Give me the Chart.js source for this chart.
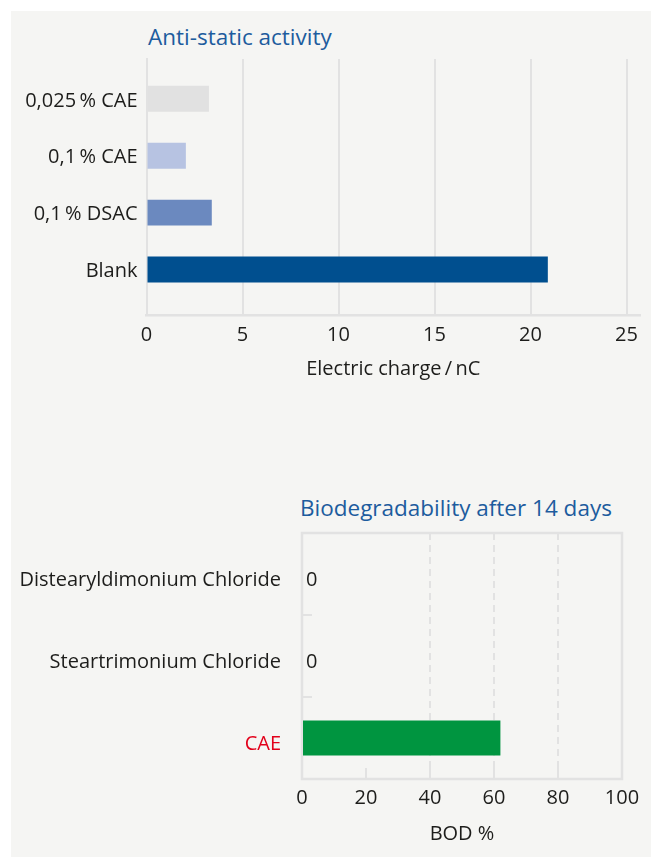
<!DOCTYPE html>
<html>
<head>
<meta charset="utf-8">
<script src="https://cdn.jsdelivr.net/npm/chart.js@4/dist/chart.umd.min.js"></script>
<style>
  html, body { margin: 0; padding: 0; background: #fff; }
  body { width: 651px; height: 857px; position: relative; overflow: hidden; font-family: "Open Sans", sans-serif; }
  .panel { position: absolute; left: 11px; top: 11px; right: 0; bottom: 0; background: #f5f5f3; }
  .title { position: absolute; font-size: 22.5px; line-height: 22px; color: #1d5c9e; white-space: nowrap; }
  .box { position: absolute; left: 0; width: 651px; }
</style>
</head>
<body>
<div class="panel"></div>
<div class="title" style="left:148px; top:26px;">Anti-static activity</div>
<div class="title" style="left:300px; top:497px;">Biodegradability after 14 days</div>
<div class="box" style="top:0; height:430px;"><canvas id="chargeChart" width="651" height="430"></canvas></div>
<div class="box" style="top:430px; height:427px;"><canvas id="bodChart" width="651" height="427"></canvas></div>
<script>
// Données du graphique "Anti-static activity"
const chargeLabels = ['0,025\u2009% CAE', '0,1\u2009% CAE', '0,1\u2009% DSAC', 'Blank'];
const chargeValues = [3.25, 2.05, 3.4, 20.9];
const chargeColors = ['#e1e1e1', '#b7c3e2', '#6b89bf', '#004f8f'];
const chargeTicks = [0, 5, 10, 15, 20, 25];

// Données du graphique "Biodegradability after 14 days"
const bodLabels = ['Distearyldimonium Chloride', 'Steartrimonium Chloride', 'CAE'];
const bodValues = [0, 0, 62];
const bodLabelColors = ['#1d1d1b', '#1d1d1b', '#e2001a'];
const bodTicks = [0, 20, 40, 60, 80, 100];

const textColor = '#1d1d1b';
const lineColor = '#e2e2e2';

Chart.defaults.font.family = '"Open Sans", sans-serif';
Chart.defaults.font.size = 20;
Chart.defaults.color = textColor;

// Premier graphique : barres horizontales sur une échelle linéaire pour garder de l'espace en haut et en bas
new Chart(document.getElementById('chargeChart'), {
    type: 'bar',
    data: {
        datasets: [{
            data: chargeValues.map((v, i) => ({ x: v, y: i })),
            backgroundColor: chargeColors,
            barPercentage: 0.456,
            categoryPercentage: 1
        }]
    },
    options: {
        indexAxis: 'y',
        responsive: false,
        animation: false,
        layout: { padding: { top: 59, right: 11, left: 0, bottom: 0 } },
        plugins: { legend: { display: false }, tooltip: { enabled: false } },
        scales: {
            x: {
                type: 'linear',
                min: 0,
                max: 25.7,
                afterBuildTicks: s => { s.ticks = chargeTicks.map(v => ({ value: v })); },
                afterFit: s => { s.height = 115; },
                grid: { color: lineColor, lineWidth: 2, drawTicks: false },
                border: { color: lineColor, width: 2.5 },
                ticks: { padding: 8, color: textColor },
                title: {
                    display: true,
                    text: 'Electric charge\u2009/\u2009nC',
                    color: textColor,
                    padding: { top: 0, bottom: 48.5 }
                }
            },
            y: {
                type: 'linear',
                reverse: true,
                offset: false,
                min: -0.7,
                max: 3.8,
                afterBuildTicks: s => { s.ticks = chargeLabels.map((_, i) => ({ value: i })); },
                afterFit: s => { s.width = 146.5; },
                grid: { display: false, drawTicks: false, offset: false },
                border: { color: lineColor, width: 2 },
                ticks: {
                    padding: 9,
                    labelOffset: 2,
                    color: textColor,
                    callback: v => chargeLabels[v]
                }
            }
        }
    }
});

// Cadre, petits traits intérieurs et étiquettes "0" du second graphique
const bodFrame = {
    id: 'bodFrame',
    beforeDatasetsDraw(chart) {
        const { ctx, chartArea: a, scales } = chart;
        ctx.save();
        ctx.strokeStyle = lineColor;
        ctx.lineWidth = 2.5;
        ctx.strokeRect(a.left, a.top, a.right - a.left, a.bottom - a.top);
        ctx.lineWidth = 2;
        ctx.beginPath();
        scales.x.ticks.forEach(t => {
            const x = scales.x.getPixelForValue(t.value);
            if (x > a.left + 1 && x < a.right - 1) {
                ctx.moveTo(x, a.bottom);
                ctx.lineTo(x, a.bottom - 11);
            }
        });
        for (let i = 0; i < bodLabels.length - 1; i++) {
            const y = (scales.y.getPixelForValue(i) + scales.y.getPixelForValue(i + 1)) / 2;
            ctx.moveTo(a.left, y);
            ctx.lineTo(a.left + 10, y);
        }
        ctx.stroke();
        ctx.restore();
    },
    afterDatasetsDraw(chart) {
        const { ctx } = chart;
        const meta = chart.getDatasetMeta(0);
        ctx.save();
        ctx.font = '20px "Open Sans", sans-serif';
        ctx.fillStyle = textColor;
        ctx.textAlign = 'left';
        ctx.textBaseline = 'middle';
        meta.data.forEach((bar, i) => {
            // seules les valeurs nulles sont étiquetées dans l'original
            if (bodValues[i] === 0) ctx.fillText(String(bodValues[i]), bar.x + 4, bar.y + 6);
        });
        ctx.restore();
    }
};

new Chart(document.getElementById('bodChart'), {
    type: 'bar',
    data: {
        labels: bodLabels,
        datasets: [{
            data: bodValues,
            backgroundColor: '#009540',
            barPercentage: 0.427,
            categoryPercentage: 1
        }]
    },
    options: {
        indexAxis: 'y',
        responsive: false,
        animation: false,
        layout: { padding: { top: 103, right: 29, left: 0, bottom: 0 } },
        plugins: { legend: { display: false }, tooltip: { enabled: false } },
        scales: {
            x: {
                type: 'linear',
                min: 0,
                max: 100,
                afterBuildTicks: s => { s.ticks = bodTicks.map(v => ({ value: v })); },
                afterFit: s => { s.height = 78; },
                grid: {
                    color: c => (c.tick && c.tick.value > 20 && c.tick.value < 100) ? lineColor : 'transparent',
                    lineWidth: 2,
                    drawTicks: false
                },
                border: { display: false, dash: [7, 5] },
                ticks: { padding: 7, color: textColor },
                title: {
                    display: true,
                    text: 'BOD %',
                    color: textColor,
                    padding: { top: 0, bottom: 10.5 }
                }
            },
            y: {
                afterFit: s => { s.width = 302; },
                grid: { display: false, drawTicks: false },
                border: { display: false },
                ticks: {
                    padding: 21,
                    labelOffset: 6,
                    color: c => bodLabelColors[c.index]
                }
            }
        }
    },
    plugins: [bodFrame]
});
</script>
</body>
</html>
